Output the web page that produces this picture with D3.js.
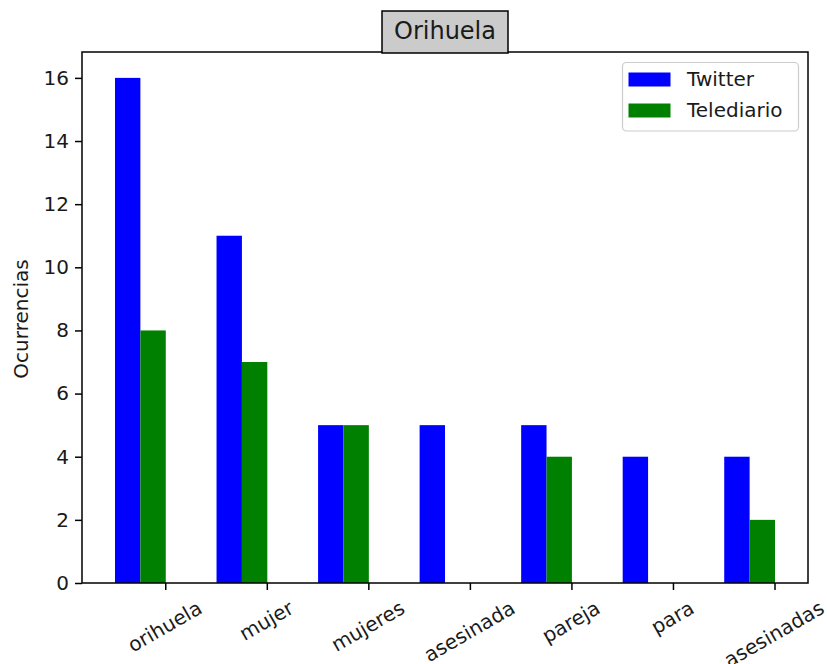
<!DOCTYPE html>
<html>
<head>
<meta charset="utf-8">
<script src="https://cdn.jsdelivr.net/npm/d3@7"></script>
<style>
  body { margin: 0; background: #fff; }
  text { font-family: "DejaVu Sans", sans-serif; fill: #1a1a1a; }
</style>
</head>
<body>
<script>
// data
const words      = ["orihuela", "mujer", "mujeres", "asesinada", "pareja", "para", "asesinadas"];
const twitter    = [16, 11, 5, 5, 5, 4, 4];
const telediario = [8, 7, 5, 0, 4, 0, 2];
const yTicks     = [0, 2, 4, 6, 8, 10, 12, 14, 16];
const seriesNames  = ["Twitter", "Telediario"];
const seriesColors = ["#0000ff", "#008000"];

const W = 827, H = 664;
const plot = { left: 82, right: 808, top: 52, bottom: 583 };
const barW = 0.25;
const fs = 20;

const svg = d3.select("body").append("svg")
  .attr("width", W)
  .attr("height", H);

// matplotlib-like 5% x margin around the bars
const xMin = 0, xMax = (words.length - 1) + 2 * barW;
const pad = (xMax - xMin) * 0.05;
const x = d3.scaleLinear()
  .domain([xMin - pad, xMax + pad])
  .range([plot.left, plot.right]);

const y = d3.scaleLinear()
  .domain([0, 16.82])
  .range([plot.bottom, plot.top]);

// bars
const series = [twitter, telediario];
series.forEach((vals, s) => {
  svg.append("g").selectAll("rect")
    .data(vals)
    .enter()
    .append("rect")
      .attr("x", (d, i) => x(i + s * barW))
      .attr("width", x(barW) - x(0))
      .attr("y", d => y(d))
      .attr("height", d => y(0) - y(d))
      .attr("fill", seriesColors[s]);
});

// y axis
const yAxis = d3.axisLeft(y)
  .tickValues(yTicks)
  .tickSize(7)
  .tickPadding(6);
const gy = svg.append("g")
  .attr("transform", `translate(${plot.left},0)`)
  .call(yAxis);
gy.select(".domain").remove();
gy.selectAll("line").attr("stroke", "#000").attr("stroke-width", 1.5);
gy.selectAll("text")
  .attr("font-size", fs + "px")
  .attr("font-family", "DejaVu Sans, sans-serif")
  .attr("fill", "#1a1a1a");

// x ticks at the right edge of each group, labels rotated 30 degrees
const xTickPos = words.map((w, i) => i + 2 * barW);
const gx = svg.append("g");
gx.selectAll("line")
  .data(xTickPos)
  .enter()
  .append("line")
    .attr("x1", d => x(d)).attr("x2", d => x(d))
    .attr("y1", plot.bottom).attr("y2", plot.bottom + 7)
    .attr("stroke", "#000")
    .attr("stroke-width", 1.5);

gx.selectAll("text")
  .data(words)
  .enter()
  .append("text")
    .attr("font-size", fs + "px")
    .attr("text-anchor", "middle")
    .attr("dominant-baseline", "central")
    .text(d => d)
    .each(function(d, i) {
      const w = this.getComputedTextLength();
      const cx = x(xTickPos[i]) - 1;
      const cy = 606 + w * 0.25;
      d3.select(this)
        .attr("x", cx)
        .attr("y", cy)
        .attr("transform", `rotate(-30,${cx},${cy})`);
    });

// frame
svg.append("rect")
  .attr("x", plot.left)
  .attr("y", plot.top)
  .attr("width", plot.right - plot.left)
  .attr("height", plot.bottom - plot.top)
  .attr("fill", "none")
  .attr("stroke", "#000")
  .attr("stroke-width", 1.5);

// y label
svg.append("text")
  .attr("transform", `translate(21,319) rotate(-90)`)
  .attr("text-anchor", "middle")
  .attr("dominant-baseline", "central")
  .attr("font-size", fs + "px")
  .text("Ocurrencias");

// title with grey box
const title = svg.append("g");
title.append("rect")
  .attr("x", 382)
  .attr("y", 11)
  .attr("width", 126)
  .attr("height", 42)
  .attr("fill", "#cbcbcb")
  .attr("stroke", "#000")
  .attr("stroke-width", 1.5);
title.append("text")
  .attr("x", (plot.left + plot.right) / 2)
  .attr("y", 31)
  .attr("text-anchor", "middle")
  .attr("dominant-baseline", "central")
  .attr("font-size", "24px")
  .text("Orihuela");

// legend
const legend = svg.append("g");
legend.append("rect")
  .attr("x", 622.5)
  .attr("y", 62.5)
  .attr("width", 176)
  .attr("height", 68.5)
  .attr("rx", 4)
  .attr("fill", "#fff")
  .attr("fill-opacity", 0.8)
  .attr("stroke", "#cccccc")
  .attr("stroke-width", 1.2);

seriesNames.forEach((name, i) => {
  const g = legend.append("g")
    .attr("transform", `translate(0,${i * 31})`);
  g.append("rect")
    .attr("x", 628.5)
    .attr("y", 72.5)
    .attr("width", 42)
    .attr("height", 14)
    .attr("fill", seriesColors[i]);
  g.append("text")
    .attr("x", 687)
    .attr("y", 79)
    .attr("dominant-baseline", "central")
    .attr("font-size", fs + "px")
    .text(name);
});
</script>
</body>
</html>
